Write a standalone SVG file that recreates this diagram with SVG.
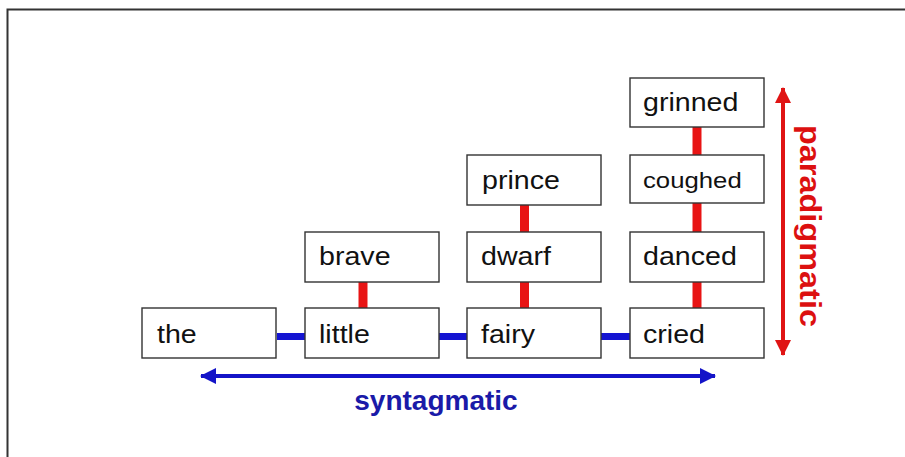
<svg xmlns="http://www.w3.org/2000/svg" width="905" height="457" viewBox="0 0 905 457">
<style>
.box{fill:#fff;stroke:#333;stroke-width:1.4}
.w{font-family:"Liberation Sans",Arial,sans-serif;font-size:26px;fill:#111}
.ws{font-family:"Liberation Sans",Arial,sans-serif;font-size:22px;fill:#111}
.red{stroke:#e81414;stroke-width:9;fill:none}
.blue{stroke:#1414d2;stroke-width:7;fill:none}
.frame{stroke:#333;stroke-width:2;fill:none}
</style>
<defs>
<marker id="ab" viewBox="0 0 16 16" refX="15" refY="8" markerWidth="16" markerHeight="16" markerUnits="userSpaceOnUse" orient="auto-start-reverse">
<path d="M0,0 L16,8 L0,16 z" fill="#1414c8"/>
</marker>
<marker id="ar" viewBox="0 0 16 16" refX="15" refY="8" markerWidth="16" markerHeight="16" markerUnits="userSpaceOnUse" orient="auto-start-reverse">
<path d="M0,0 L16,8 L0,16 z" fill="#e01414"/>
</marker>
</defs>
<rect width="905" height="457" fill="#fff"/>
<path class="frame" d="M7.5,457 V9.5 H905"/>
<g id="connectors">
<line class="blue" x1="277" y1="336.5" x2="305" y2="336.5"/>
<line class="blue" x1="439" y1="336.5" x2="467" y2="336.5"/>
<line class="blue" x1="601" y1="336.5" x2="630" y2="336.5"/>
<line class="red" x1="363" y1="282" x2="363" y2="308"/>
<line class="red" x1="524.5" y1="282" x2="524.5" y2="308"/>
<line class="red" x1="524.5" y1="205" x2="524.5" y2="232"/>
<line class="red" x1="697" y1="282" x2="697" y2="308"/>
<line class="red" x1="697" y1="203" x2="697" y2="232"/>
<line class="red" x1="697" y1="127" x2="697" y2="155"/>
<line x1="201" y1="376" x2="715" y2="376" stroke="#1414c8" stroke-width="4" marker-start="url(#ab)" marker-end="url(#ab)"/>
<line x1="783" y1="88" x2="783" y2="355" stroke="#e01414" stroke-width="4" marker-start="url(#ar)" marker-end="url(#ar)"/>
</g>
<g id="n-the"><rect class="box" x="142" y="308" width="134" height="50"/><text class="w" transform="matrix(1.1 0 0 1 157 343)">the</text></g>
<g id="n-little"><rect class="box" x="305" y="308" width="134" height="50"/><text class="w" transform="matrix(1.1 0 0 1 319 343)">little</text></g>
<g id="n-fairy"><rect class="box" x="467" y="308" width="134" height="50"/><text class="w" transform="matrix(1.1 0 0 1 481 343)">fairy</text></g>
<g id="n-cried"><rect class="box" x="630" y="308" width="134" height="50"/><text class="w" transform="matrix(1.1 0 0 1 643 343)">cried</text></g>
<g id="n-brave"><rect class="box" x="305" y="232" width="134" height="50"/><text class="w" transform="matrix(1.1 0 0 1 319 265)">brave</text></g>
<g id="n-dwarf"><rect class="box" x="467" y="232" width="134" height="50"/><text class="w" transform="matrix(1.1 0 0 1 481 265)">dwarf</text></g>
<g id="n-danced"><rect class="box" x="630" y="232" width="134" height="50"/><text class="w" transform="matrix(1.1 0 0 1 643 265)">danced</text></g>
<g id="n-prince"><rect class="box" x="467" y="155" width="134" height="50"/><text class="w" transform="matrix(1.1 0 0 1 482 189)">prince</text></g>
<g id="n-coughed"><rect class="box" x="630" y="155" width="134" height="48"/><text class="ws" transform="matrix(1.17 0 0 1 643 188)">coughed</text></g>
<g id="n-grinned"><rect class="box" x="630" y="78" width="134" height="49"/><text class="w" transform="matrix(1.1 0 0 1 643 111)">grinned</text></g>
<g id="label-syntagmatic"><text transform="matrix(1 0 0 1 436 410)" text-anchor="middle" font-family="'Liberation Sans',Arial,sans-serif" font-weight="bold" font-size="28" fill="#1a1aa8">syntagmatic</text></g>
<g id="label-paradigmatic"><text transform="matrix(0 1.12 -1 0 800 226)" text-anchor="middle" font-family="'Liberation Sans',Arial,sans-serif" font-weight="bold" font-size="29" fill="#dc1010">paradigmatic</text></g>
</svg>
